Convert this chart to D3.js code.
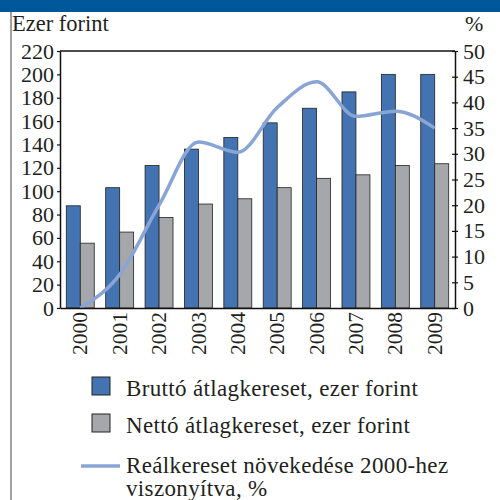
<!DOCTYPE html>
<html>
<head>
<meta charset="utf-8">
<script src="https://cdn.jsdelivr.net/npm/d3@7"></script>
<style>
  body { margin: 0; background: #fff; }
  svg text { font-family: "Liberation Serif", "DejaVu Serif", serif; fill: #231f20; }
</style>
</head>
<body>
<div id="chart"></div>
<script>
const years = ["2000","2001","2002","2003","2004","2005","2006","2007","2008","2009"];
const brutto = [87.5, 103, 122, 136, 146, 158.5, 171, 185, 200, 200];
const netto = [55.5, 65, 77.5, 89, 93.5, 103, 111, 114, 122, 123.5];
const realGrowth = [0, 6.5, 20, 32.3, 30.3, 39, 44, 37.3, 38.3, 35];
const leftTicks = d3.range(0, 221, 20);
const rightTicks = d3.range(0, 51, 5);
const legendItems = [
  { type: "rect", color: "#4373b0", label: ["Bruttó átlagkereset, ezer forint"] },
  { type: "rect", color: "#a6a7aa", label: ["Nettó átlagkereset, ezer forint"] },
  { type: "line", color: "#88a5d5", label: ["Reálkereset növekedése 2000-hez", "viszonyítva, %"] }
];

const W = 500, H = 500;
const margin = { top: 51, right: 45, bottom: 192, left: 60 };
const width = W - margin.left - margin.right;
const height = H - margin.top - margin.bottom;

const svg = d3.select("#chart").append("svg")
  .attr("width", W)
  .attr("height", H);

// header bar and left rule
svg.append("rect").attr("x", 0).attr("y", 0).attr("width", W).attr("height", 12).attr("fill", "#00589b");
svg.append("rect").attr("x", 10).attr("y", 12).attr("width", 2).attr("height", H - 12).attr("fill", "#a0a0a0");

const g = svg.append("g").attr("transform", "translate(" + margin.left + "," + margin.top + ")");

const x = d3.scaleBand().domain(years).range([0, width]).paddingInner(0.29).paddingOuter(0.16);
const xSub = d3.scaleBand().domain(["b", "n"]).range([0, x.bandwidth()]);
const yL = d3.scaleLinear().domain([0, 220]).range([height, 0]);
const yR = d3.scaleLinear().domain([0, 50]).range([height, 0]);

// bars
const groups = g.selectAll(".year").data(years).enter().append("g")
  .attr("transform", d => "translate(" + x(d) + ",0)");
groups.append("rect")
  .attr("x", xSub("b")).attr("width", xSub.bandwidth())
  .attr("y", (d, i) => yL(brutto[i])).attr("height", (d, i) => height - yL(brutto[i]))
  .attr("fill", "#4373b0").attr("stroke", "#222").attr("stroke-width", 0.8);
groups.append("rect")
  .attr("x", xSub("n")).attr("width", xSub.bandwidth())
  .attr("y", (d, i) => yL(netto[i])).attr("height", (d, i) => height - yL(netto[i]))
  .attr("fill", "#a6a7aa").attr("stroke", "#222").attr("stroke-width", 0.8);

// line
const line = d3.line()
  .x((d, i) => x(years[i]) + x.bandwidth() / 2)
  .y(d => yR(d))
  .curve(d3.curveMonotoneX);
g.append("path").datum(realGrowth)
  .attr("d", line)
  .attr("fill", "none")
  .attr("stroke", "#88a5d5")
  .attr("stroke-width", 3.5);

// frame top
g.append("line").attr("x1", 0).attr("x2", width).attr("y1", 0).attr("y2", 0)
  .attr("stroke", "#111").attr("stroke-width", 1.5);

// axes
const leftAxis = g.append("g")
  .call(d3.axisLeft(yL).tickValues(leftTicks).tickSize(3).tickSizeOuter(0));
const rightAxis = g.append("g").attr("transform", "translate(" + width + ",0)")
  .call(d3.axisRight(yR).tickValues(rightTicks).tickSize(3).tickSizeOuter(0));
rightAxis.selectAll(".tick line").attr("x1", -3);
const bottomAxis = g.append("g").attr("transform", "translate(0," + height + ")")
  .call(d3.axisBottom(x).tickSize(0).tickSizeOuter(0));

[leftAxis, rightAxis, bottomAxis].forEach(a => {
  a.attr("font-size", 22);
  a.select(".domain").attr("stroke", "#111").attr("stroke-width", 1.5);
  a.selectAll(".tick line").attr("stroke", "#111").attr("stroke-width", 1.2);
  a.selectAll("text").attr("fill", "#231f20");
});
leftAxis.selectAll("text").attr("x", -6);
rightAxis.selectAll("text").attr("x", 8);
bottomAxis.attr("font-size", 21.5);
bottomAxis.selectAll("text")
  .attr("transform", "rotate(-90)")
  .attr("x", -4).attr("y", 0).attr("dy", "0.33em")
  .style("text-anchor", "end");

// axis titles
svg.append("text").attr("x", 12).attr("y", 31).style("font-size", "22.5px").text("Ezer forint");
svg.append("text").attr("x", 465).attr("y", 31).style("font-size", "22px").text("%");

// legend
const legY = [396, 433, 473];
const leg = svg.selectAll(".legend").data(legendItems).enter().append("g")
  .attr("transform", (d, i) => "translate(0," + legY[i] + ")");
leg.filter(d => d.type === "rect").append("rect")
  .attr("x", 92).attr("y", -19).attr("width", 18).attr("height", 18)
  .attr("fill", d => d.color).attr("stroke", "#222").attr("stroke-width", 1);
leg.filter(d => d.type === "line").append("line")
  .attr("x1", 81).attr("x2", 120).attr("y1", -7).attr("y2", -7)
  .attr("stroke", d => d.color).attr("stroke-width", 3.5);
leg.each(function(d) {
  const t = d3.select(this).append("text").attr("x", 126).attr("y", 0)
    .style("font-size", "23px").style("letter-spacing", "0.35px");
  d.label.forEach((s, j) => t.append("tspan").attr("x", 126).attr("dy", j === 0 ? 0 : 23).text(s));
});
</script>
</body>
</html>
